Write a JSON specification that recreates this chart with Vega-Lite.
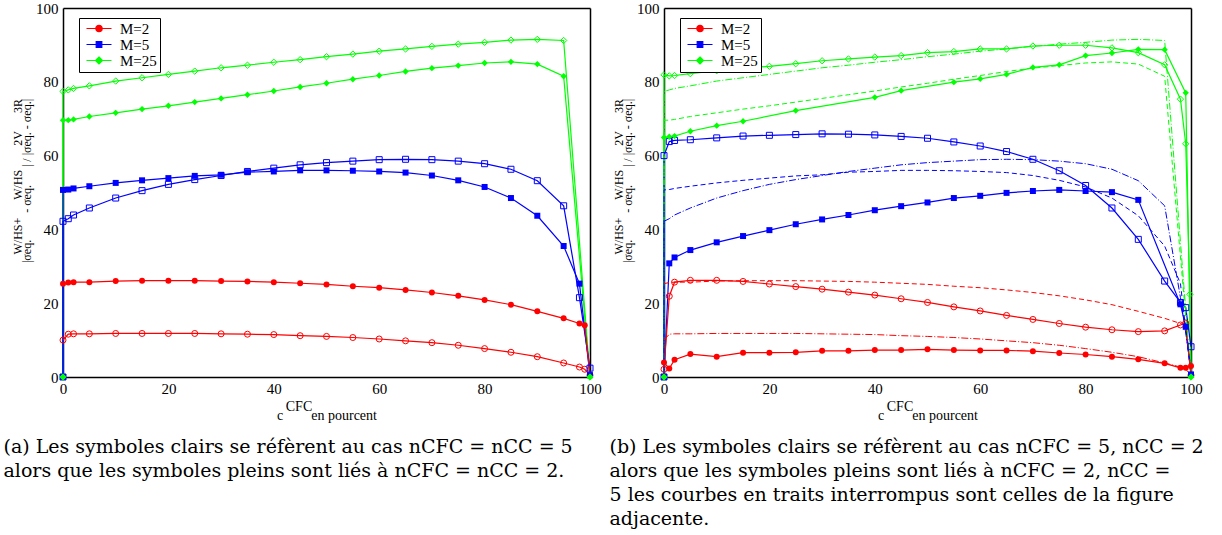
{
"$schema": "https://vega.github.io/schema/vega-lite/v6.json",
"background": "white",
"padding": {"left": 3, "top": 1, "right": 0, "bottom": 0},
"spacing": 7,
"datasets": {
"A": [
{"M":"M=25","f":"o","x":0,"y":0},{"M":"M=25","f":"o","x":0,"y":77.4},{"M":"M=25","f":"o","x":1,"y":77.8},{"M":"M=25","f":"o","x":2,"y":78.2},{"M":"M=25","f":"o","x":5,"y":78.9},{"M":"M=25","f":"o","x":10,"y":80.2},{"M":"M=25","f":"o","x":15,"y":81.1},{"M":"M=25","f":"o","x":20,"y":82.0},{"M":"M=25","f":"o","x":25,"y":82.9},{"M":"M=25","f":"o","x":30,"y":83.8},{"M":"M=25","f":"o","x":35,"y":84.5},{"M":"M=25","f":"o","x":40,"y":85.3},{"M":"M=25","f":"o","x":45,"y":86.0},{"M":"M=25","f":"o","x":50,"y":86.8},{"M":"M=25","f":"o","x":55,"y":87.5},{"M":"M=25","f":"o","x":60,"y":88.3},{"M":"M=25","f":"o","x":65,"y":88.9},{"M":"M=25","f":"o","x":70,"y":89.6},{"M":"M=25","f":"o","x":75,"y":90.2},{"M":"M=25","f":"o","x":80,"y":90.7},{"M":"M=25","f":"o","x":85,"y":91.3},{"M":"M=25","f":"o","x":90,"y":91.5},{"M":"M=25","f":"o","x":95,"y":91.2},{"M":"M=25","f":"o","x":100,"y":0},
{"M":"M=25","f":"f","x":0,"y":0},{"M":"M=25","f":"f","x":0,"y":69.6},{"M":"M=25","f":"f","x":1,"y":69.6},{"M":"M=25","f":"f","x":2,"y":69.8},{"M":"M=25","f":"f","x":5,"y":70.6},{"M":"M=25","f":"f","x":10,"y":71.6},{"M":"M=25","f":"f","x":15,"y":72.6},{"M":"M=25","f":"f","x":20,"y":73.5},{"M":"M=25","f":"f","x":25,"y":74.5},{"M":"M=25","f":"f","x":30,"y":75.5},{"M":"M=25","f":"f","x":35,"y":76.5},{"M":"M=25","f":"f","x":40,"y":77.5},{"M":"M=25","f":"f","x":45,"y":78.6},{"M":"M=25","f":"f","x":50,"y":79.6},{"M":"M=25","f":"f","x":55,"y":80.7},{"M":"M=25","f":"f","x":60,"y":81.7},{"M":"M=25","f":"f","x":65,"y":82.8},{"M":"M=25","f":"f","x":70,"y":83.7},{"M":"M=25","f":"f","x":75,"y":84.4},{"M":"M=25","f":"f","x":80,"y":85.1},{"M":"M=25","f":"f","x":85,"y":85.4},{"M":"M=25","f":"f","x":90,"y":84.8},{"M":"M=25","f":"f","x":95,"y":81.5},{"M":"M=25","f":"f","x":100,"y":0},
{"M":"M=5","f":"o","x":0,"y":0},{"M":"M=5","f":"o","x":0,"y":42.2},{"M":"M=5","f":"o","x":1,"y":42.9},{"M":"M=5","f":"o","x":2,"y":43.9},{"M":"M=5","f":"o","x":5,"y":45.8},{"M":"M=5","f":"o","x":10,"y":48.5},{"M":"M=5","f":"o","x":15,"y":50.5},{"M":"M=5","f":"o","x":20,"y":52.2},{"M":"M=5","f":"o","x":25,"y":53.5},{"M":"M=5","f":"o","x":30,"y":54.6},{"M":"M=5","f":"o","x":35,"y":55.7},{"M":"M=5","f":"o","x":40,"y":56.6},{"M":"M=5","f":"o","x":45,"y":57.5},{"M":"M=5","f":"o","x":50,"y":58.1},{"M":"M=5","f":"o","x":55,"y":58.5},{"M":"M=5","f":"o","x":60,"y":58.9},{"M":"M=5","f":"o","x":65,"y":59.0},{"M":"M=5","f":"o","x":70,"y":58.9},{"M":"M=5","f":"o","x":75,"y":58.5},{"M":"M=5","f":"o","x":80,"y":57.8},{"M":"M=5","f":"o","x":85,"y":56.3},{"M":"M=5","f":"o","x":90,"y":53.2},{"M":"M=5","f":"o","x":95,"y":46.4},{"M":"M=5","f":"o","x":98,"y":21.5},{"M":"M=5","f":"o","x":100,"y":2.4},
{"M":"M=5","f":"f","x":0,"y":0},{"M":"M=5","f":"f","x":0,"y":50.7},{"M":"M=5","f":"f","x":1,"y":50.8},{"M":"M=5","f":"f","x":2,"y":51.1},{"M":"M=5","f":"f","x":5,"y":51.7},{"M":"M=5","f":"f","x":10,"y":52.6},{"M":"M=5","f":"f","x":15,"y":53.3},{"M":"M=5","f":"f","x":20,"y":53.9},{"M":"M=5","f":"f","x":25,"y":54.5},{"M":"M=5","f":"f","x":30,"y":54.8},{"M":"M=5","f":"f","x":35,"y":55.5},{"M":"M=5","f":"f","x":40,"y":55.7},{"M":"M=5","f":"f","x":45,"y":56.0},{"M":"M=5","f":"f","x":50,"y":56.0},{"M":"M=5","f":"f","x":55,"y":55.9},{"M":"M=5","f":"f","x":60,"y":55.7},{"M":"M=5","f":"f","x":65,"y":55.4},{"M":"M=5","f":"f","x":70,"y":54.6},{"M":"M=5","f":"f","x":75,"y":53.3},{"M":"M=5","f":"f","x":80,"y":51.5},{"M":"M=5","f":"f","x":85,"y":48.5},{"M":"M=5","f":"f","x":90,"y":43.7},{"M":"M=5","f":"f","x":95,"y":35.5},{"M":"M=5","f":"f","x":98,"y":25.3},{"M":"M=5","f":"f","x":100,"y":0.5},
{"M":"M=2","f":"o","x":0,"y":10.0},{"M":"M=2","f":"o","x":1,"y":11.6},{"M":"M=2","f":"o","x":2,"y":11.7},{"M":"M=2","f":"o","x":5,"y":11.7},{"M":"M=2","f":"o","x":10,"y":11.8},{"M":"M=2","f":"o","x":15,"y":11.8},{"M":"M=2","f":"o","x":20,"y":11.8},{"M":"M=2","f":"o","x":25,"y":11.8},{"M":"M=2","f":"o","x":30,"y":11.7},{"M":"M=2","f":"o","x":35,"y":11.6},{"M":"M=2","f":"o","x":40,"y":11.5},{"M":"M=2","f":"o","x":45,"y":11.2},{"M":"M=2","f":"o","x":50,"y":11.0},{"M":"M=2","f":"o","x":55,"y":10.7},{"M":"M=2","f":"o","x":60,"y":10.3},{"M":"M=2","f":"o","x":65,"y":9.8},{"M":"M=2","f":"o","x":70,"y":9.3},{"M":"M=2","f":"o","x":75,"y":8.6},{"M":"M=2","f":"o","x":80,"y":7.7},{"M":"M=2","f":"o","x":85,"y":6.7},{"M":"M=2","f":"o","x":90,"y":5.5},{"M":"M=2","f":"o","x":95,"y":3.8},{"M":"M=2","f":"o","x":98,"y":2.7},{"M":"M=2","f":"o","x":99,"y":2.1},{"M":"M=2","f":"o","x":100,"y":0.5},
{"M":"M=2","f":"f","x":0,"y":25.3},{"M":"M=2","f":"f","x":1,"y":25.6},{"M":"M=2","f":"f","x":2,"y":25.7},{"M":"M=2","f":"f","x":5,"y":25.7},{"M":"M=2","f":"f","x":10,"y":26.0},{"M":"M=2","f":"f","x":15,"y":26.1},{"M":"M=2","f":"f","x":20,"y":26.1},{"M":"M=2","f":"f","x":25,"y":26.1},{"M":"M=2","f":"f","x":30,"y":26.0},{"M":"M=2","f":"f","x":35,"y":25.9},{"M":"M=2","f":"f","x":40,"y":25.7},{"M":"M=2","f":"f","x":45,"y":25.4},{"M":"M=2","f":"f","x":50,"y":25.1},{"M":"M=2","f":"f","x":55,"y":24.6},{"M":"M=2","f":"f","x":60,"y":24.2},{"M":"M=2","f":"f","x":65,"y":23.6},{"M":"M=2","f":"f","x":70,"y":22.9},{"M":"M=2","f":"f","x":75,"y":22.0},{"M":"M=2","f":"f","x":80,"y":20.9},{"M":"M=2","f":"f","x":85,"y":19.6},{"M":"M=2","f":"f","x":90,"y":17.8},{"M":"M=2","f":"f","x":95,"y":15.9},{"M":"M=2","f":"f","x":98,"y":14.5},{"M":"M=2","f":"f","x":99,"y":14.0},{"M":"M=2","f":"f","x":100,"y":0.5}
],
"B": [
{"M":"M=25","f":"o","x":0,"y":0},{"M":"M=25","f":"o","x":0,"y":81.9},{"M":"M=25","f":"o","x":1,"y":81.6},{"M":"M=25","f":"o","x":2,"y":81.7},{"M":"M=25","f":"o","x":5,"y":82.2},{"M":"M=25","f":"o","x":10,"y":83.0},{"M":"M=25","f":"o","x":15,"y":83.7},{"M":"M=25","f":"o","x":20,"y":84.2},{"M":"M=25","f":"o","x":25,"y":84.9},{"M":"M=25","f":"o","x":30,"y":85.7},{"M":"M=25","f":"o","x":35,"y":86.2},{"M":"M=25","f":"o","x":40,"y":86.7},{"M":"M=25","f":"o","x":45,"y":87.1},{"M":"M=25","f":"o","x":50,"y":87.9},{"M":"M=25","f":"o","x":55,"y":88.2},{"M":"M=25","f":"o","x":60,"y":88.9},{"M":"M=25","f":"o","x":65,"y":88.9},{"M":"M=25","f":"o","x":70,"y":89.7},{"M":"M=25","f":"o","x":75,"y":89.9},{"M":"M=25","f":"o","x":80,"y":89.9},{"M":"M=25","f":"o","x":85,"y":89.2},{"M":"M=25","f":"o","x":90,"y":87.9},{"M":"M=25","f":"o","x":95,"y":84.6},{"M":"M=25","f":"o","x":98,"y":75.3},{"M":"M=25","f":"o","x":99,"y":63.2},{"M":"M=25","f":"o","x":99.8,"y":22.4},{"M":"M=25","f":"o","x":100,"y":0},
{"M":"M=25","f":"f","x":0,"y":0},{"M":"M=25","f":"f","x":0,"y":64.9},{"M":"M=25","f":"f","x":1,"y":65.1},{"M":"M=25","f":"f","x":2,"y":65.3},{"M":"M=25","f":"f","x":5,"y":66.6},{"M":"M=25","f":"f","x":10,"y":68.1},{"M":"M=25","f":"f","x":15,"y":69.3},{"M":"M=25","f":"f","x":25,"y":72.2},{"M":"M=25","f":"f","x":40,"y":75.8},{"M":"M=25","f":"f","x":45,"y":77.6},{"M":"M=25","f":"f","x":55,"y":79.9},{"M":"M=25","f":"f","x":60,"y":80.8},{"M":"M=25","f":"f","x":65,"y":82.0},{"M":"M=25","f":"f","x":70,"y":83.9},{"M":"M=25","f":"f","x":75,"y":84.6},{"M":"M=25","f":"f","x":80,"y":87.1},{"M":"M=25","f":"f","x":85,"y":87.8},{"M":"M=25","f":"f","x":90,"y":88.8},{"M":"M=25","f":"f","x":95,"y":88.7},{"M":"M=25","f":"f","x":99,"y":77.0},{"M":"M=25","f":"f","x":100,"y":0},
{"M":"M=5","f":"o","x":0,"y":0},{"M":"M=5","f":"o","x":0,"y":60.0},{"M":"M=5","f":"o","x":1,"y":63.8},{"M":"M=5","f":"o","x":2,"y":64.1},{"M":"M=5","f":"o","x":5,"y":64.3},{"M":"M=5","f":"o","x":10,"y":64.8},{"M":"M=5","f":"o","x":15,"y":65.3},{"M":"M=5","f":"o","x":20,"y":65.5},{"M":"M=5","f":"o","x":25,"y":65.7},{"M":"M=5","f":"o","x":30,"y":65.9},{"M":"M=5","f":"o","x":35,"y":65.8},{"M":"M=5","f":"o","x":40,"y":65.6},{"M":"M=5","f":"o","x":45,"y":65.2},{"M":"M=5","f":"o","x":50,"y":64.7},{"M":"M=5","f":"o","x":55,"y":63.7},{"M":"M=5","f":"o","x":60,"y":62.6},{"M":"M=5","f":"o","x":65,"y":61.1},{"M":"M=5","f":"o","x":70,"y":59.0},{"M":"M=5","f":"o","x":75,"y":55.9},{"M":"M=5","f":"o","x":80,"y":51.9},{"M":"M=5","f":"o","x":85,"y":45.8},{"M":"M=5","f":"o","x":90,"y":37.3},{"M":"M=5","f":"o","x":95,"y":26.0},{"M":"M=5","f":"o","x":98,"y":20.2},{"M":"M=5","f":"o","x":99,"y":18.8},{"M":"M=5","f":"o","x":100,"y":8.2},
{"M":"M=5","f":"f","x":0,"y":0},{"M":"M=5","f":"f","x":1,"y":30.8},{"M":"M=5","f":"f","x":2,"y":32.4},{"M":"M=5","f":"f","x":5,"y":34.4},{"M":"M=5","f":"f","x":10,"y":36.5},{"M":"M=5","f":"f","x":15,"y":38.2},{"M":"M=5","f":"f","x":20,"y":39.8},{"M":"M=5","f":"f","x":25,"y":41.4},{"M":"M=5","f":"f","x":30,"y":42.7},{"M":"M=5","f":"f","x":35,"y":43.9},{"M":"M=5","f":"f","x":40,"y":45.2},{"M":"M=5","f":"f","x":45,"y":46.3},{"M":"M=5","f":"f","x":50,"y":47.3},{"M":"M=5","f":"f","x":55,"y":48.5},{"M":"M=5","f":"f","x":60,"y":49.1},{"M":"M=5","f":"f","x":65,"y":49.9},{"M":"M=5","f":"f","x":70,"y":50.4},{"M":"M=5","f":"f","x":75,"y":50.7},{"M":"M=5","f":"f","x":80,"y":50.4},{"M":"M=5","f":"f","x":85,"y":50.1},{"M":"M=5","f":"f","x":90,"y":48.0},{"M":"M=5","f":"f","x":98,"y":19.7},{"M":"M=5","f":"f","x":99,"y":13.6},{"M":"M=5","f":"f","x":100,"y":0.7},
{"M":"M=2","f":"o","x":0,"y":2.1},{"M":"M=2","f":"o","x":1,"y":21.9},{"M":"M=2","f":"o","x":2,"y":25.7},{"M":"M=2","f":"o","x":5,"y":26.2},{"M":"M=2","f":"o","x":10,"y":26.2},{"M":"M=2","f":"o","x":15,"y":25.9},{"M":"M=2","f":"o","x":20,"y":25.2},{"M":"M=2","f":"o","x":25,"y":24.5},{"M":"M=2","f":"o","x":30,"y":23.8},{"M":"M=2","f":"o","x":35,"y":23.0},{"M":"M=2","f":"o","x":40,"y":22.2},{"M":"M=2","f":"o","x":45,"y":21.2},{"M":"M=2","f":"o","x":50,"y":20.2},{"M":"M=2","f":"o","x":55,"y":19.0},{"M":"M=2","f":"o","x":60,"y":17.9},{"M":"M=2","f":"o","x":65,"y":16.7},{"M":"M=2","f":"o","x":70,"y":15.6},{"M":"M=2","f":"o","x":75,"y":14.5},{"M":"M=2","f":"o","x":80,"y":13.5},{"M":"M=2","f":"o","x":85,"y":12.8},{"M":"M=2","f":"o","x":90,"y":12.3},{"M":"M=2","f":"o","x":95,"y":12.5},{"M":"M=2","f":"o","x":98,"y":14.1},{"M":"M=2","f":"o","x":99,"y":14.6},{"M":"M=2","f":"o","x":100,"y":0.5},
{"M":"M=2","f":"f","x":0,"y":3.9},{"M":"M=2","f":"f","x":1,"y":2.3},{"M":"M=2","f":"f","x":2,"y":4.7},{"M":"M=2","f":"f","x":5,"y":6.2},{"M":"M=2","f":"f","x":10,"y":5.5},{"M":"M=2","f":"f","x":15,"y":6.6},{"M":"M=2","f":"f","x":20,"y":6.6},{"M":"M=2","f":"f","x":25,"y":6.7},{"M":"M=2","f":"f","x":30,"y":7.1},{"M":"M=2","f":"f","x":35,"y":7.1},{"M":"M=2","f":"f","x":40,"y":7.3},{"M":"M=2","f":"f","x":45,"y":7.3},{"M":"M=2","f":"f","x":50,"y":7.5},{"M":"M=2","f":"f","x":55,"y":7.3},{"M":"M=2","f":"f","x":60,"y":7.2},{"M":"M=2","f":"f","x":65,"y":7.2},{"M":"M=2","f":"f","x":70,"y":7.0},{"M":"M=2","f":"f","x":75,"y":6.5},{"M":"M=2","f":"f","x":80,"y":6.1},{"M":"M=2","f":"f","x":85,"y":5.5},{"M":"M=2","f":"f","x":90,"y":4.8},{"M":"M=2","f":"f","x":95,"y":3.7},{"M":"M=2","f":"f","x":98,"y":2.5},{"M":"M=2","f":"f","x":99,"y":2.5},{"M":"M=2","f":"f","x":100,"y":3.0}
]
},
"hconcat": [
{
"width": 527, "height": 369,
"data": {"name": "A"},
"title": {"text": ["(a) Les symboles clairs se réfèrent au cas nCFC = nCC = 5", "alors que les symboles pleins sont liés à nCFC = nCC = 2."], "orient": "bottom", "anchor": "start", "frame": "bounds", "offset": 16, "dx": -8, "font": "DejaVu Serif", "fontSize": 19, "fontWeight": "normal", "color": "black", "lineHeight": 24},
"layer": [
{"mark": {"type": "line", "strokeWidth": 1.2},
 "encoding": {
  "x": {"field": "x", "type": "quantitative", "scale": {"domain": [0, 100], "nice": false, "zero": false},
   "axis": {"orient": "bottom", "values": [0,10,20,30,40,50,60,70,80,90,100], "labelExpr": "datum.value % 20 === 0 ? datum.label : ''", "labelPadding": 4, "titlePadding": 3, "titleFontSize": 14, "titleLineHeight": 9,
    "title": ["\u2060\u2002CFC\u2002\u2002\u2002\u2002\u2002\u2002\u2002\u2002\u2002\u2060", "c\u2002\u2002\u2002\u2002en pourcent"],
    "encode": {"ticks": {"update": {"y2": {"signal": "datum.value % 20 === 0 ? -10 : -5"}}}}}},
  "y": {"field": "y", "type": "quantitative", "scale": {"domain": [0, 100], "nice": false, "zero": false},
   "axis": {"orient": "left", "values": [0,10,20,30,40,50,60,70,80,90,100], "labelExpr": "datum.value % 20 === 0 ? datum.label : ''", "labelPadding": 5, "titlePadding": 2, "titleFontSize": 12, "titleLineHeight": 9,
    "title": ["\u2060\u2002\u2002\u2002\u2002\u2002\u2009W/HS+\u2002\u2002\u2002W/HS\u2002\u2002\u2002\u20022V\u2002\u2002\u20023R", "\u2060\u2002\u2002\u2002\u2002|σeq.\u2002\u2002\u2002\u2002 - σeq.\u2002\u2002\u2002| / |σeq. - σeq.|"],
    "encode": {"ticks": {"update": {"x2": {"signal": "datum.value % 20 === 0 ? 10 : 5"}}}}}},
  "color": {"field": "M", "type": "nominal", "scale": {"domain": ["M=2", "M=5", "M=25"], "range": ["#ff0000", "#0000ff", "#00ff00"]},
   "legend": {"encode": {"symbols": {"update": {
     "shape": {"signal": "datum.value === 'M=2' ? 'M-0.6,0H4.4M1.26,0A0.64,0.64,0,1,0,2.54,0A0.64,0.64,0,1,0,1.26,0Z' : datum.value === 'M=5' ? 'M-0.6,0H4.4M1.34,-0.56H2.46V0.56H1.34Z' : 'M-0.6,0H4.4M1.9,-0.7L2.6,0L1.9,0.7L1.2,0Z'"},
     "size": {"value": 100},
     "fill": {"signal": "datum.value === 'M=2' ? '#ff0000' : datum.value === 'M=5' ? '#0000ff' : '#00ff00'"},
     "stroke": {"signal": "datum.value === 'M=2' ? '#ff0000' : datum.value === 'M=5' ? '#0000ff' : '#00ff00'"},
     "opacity": {"value": 1}}}}}},
  "detail": {"field": "f"},
  "order": {"value": null}
 }},
{"transform": [{"filter": "datum.M === 'M=2' && datum.f === 'f'"}],
 "mark": {"type": "point", "shape": "circle", "filled": true, "color": "#ff0000", "size": 36, "opacity": 1},
 "encoding": {
  "x": {"field": "x", "type": "quantitative",
   "axis": {"orient": "top", "values": [0,10,20,30,40,50,60,70,80,90,100], "labels": false, "title": null,
    "encode": {"ticks": {"update": {"y2": {"signal": "datum.value % 20 === 0 ? 10 : 5"}}}}}},
  "y": {"field": "y", "type": "quantitative",
   "axis": {"orient": "right", "values": [0,10,20,30,40,50,60,70,80,90,100], "labels": false, "title": null,
    "encode": {"ticks": {"update": {"x2": {"signal": "datum.value % 20 === 0 ? -10 : -5"}}}}}}
 }},
{"transform": [{"filter": "datum.M === 'M=2' && datum.f === 'o'"}],
 "mark": {"type": "point", "shape": "circle", "filled": false, "color": "#ff0000", "size": 36, "strokeWidth": 1, "opacity": 1},
 "encoding": {"x": {"field": "x", "type": "quantitative", "axis": null}, "y": {"field": "y", "type": "quantitative", "axis": null}}},
{"transform": [{"filter": "datum.M === 'M=5' && datum.f === 'f'"}],
 "mark": {"type": "point", "shape": "square", "filled": true, "color": "#0000ff", "size": 36, "opacity": 1},
 "encoding": {"x": {"field": "x", "type": "quantitative", "axis": null}, "y": {"field": "y", "type": "quantitative", "axis": null}}},
{"transform": [{"filter": "datum.M === 'M=5' && datum.f === 'o'"}],
 "mark": {"type": "point", "shape": "square", "filled": false, "color": "#0000ff", "size": 36, "strokeWidth": 1, "opacity": 1},
 "encoding": {"x": {"field": "x", "type": "quantitative", "axis": null}, "y": {"field": "y", "type": "quantitative", "axis": null}}},
{"transform": [{"filter": "datum.M === 'M=25' && datum.f === 'f'"}],
 "mark": {"type": "point", "shape": "diamond", "filled": true, "color": "#00ff00", "size": 40, "opacity": 1},
 "encoding": {"x": {"field": "x", "type": "quantitative", "axis": null}, "y": {"field": "y", "type": "quantitative", "axis": null}}},
{"transform": [{"filter": "datum.M === 'M=25' && datum.f === 'o'"}],
 "mark": {"type": "point", "shape": "diamond", "filled": false, "color": "#00ff00", "size": 40, "strokeWidth": 1, "opacity": 1},
 "encoding": {"x": {"field": "x", "type": "quantitative", "axis": null}, "y": {"field": "y", "type": "quantitative", "axis": null}}}
],
"resolve": {"axis": {"x": "independent", "y": "independent"}}
},
{
"width": 527, "height": 369,
"data": {"name": "B"},
"title": {"text": ["(b) Les symboles clairs se réfèrent au cas nCFC = 5, nCC = 2", "alors que les symboles pleins sont liés à nCFC = 2, nCC =", "5 les courbes en traits interrompus sont celles de la figure", "adjacente."], "orient": "bottom", "anchor": "start", "frame": "bounds", "offset": 16, "dx": -3, "font": "DejaVu Serif", "fontSize": 19, "fontWeight": "normal", "color": "black", "lineHeight": 24},
"layer": [
{"mark": {"type": "line", "strokeWidth": 1.2},
 "encoding": {
  "x": {"field": "x", "type": "quantitative", "scale": {"domain": [0, 100], "nice": false, "zero": false},
   "axis": {"orient": "bottom", "values": [0,10,20,30,40,50,60,70,80,90,100], "labelExpr": "datum.value % 20 === 0 ? datum.label : ''", "labelPadding": 4, "titlePadding": 3, "titleFontSize": 14, "titleLineHeight": 9,
    "title": ["\u2060\u2002CFC\u2002\u2002\u2002\u2002\u2002\u2002\u2002\u2002\u2002\u2060", "c\u2002\u2002\u2002\u2002en pourcent"],
    "encode": {"ticks": {"update": {"y2": {"signal": "datum.value % 20 === 0 ? -10 : -5"}}}}}},
  "y": {"field": "y", "type": "quantitative", "scale": {"domain": [0, 100], "nice": false, "zero": false},
   "axis": {"orient": "left", "values": [0,10,20,30,40,50,60,70,80,90,100], "labelExpr": "datum.value % 20 === 0 ? datum.label : ''", "labelPadding": 5, "titlePadding": 2, "titleFontSize": 12, "titleLineHeight": 9,
    "title": ["\u2060\u2002\u2002\u2002\u2002\u2002\u2009W/HS+\u2002\u2002\u2002W/HS\u2002\u2002\u2002\u20022V\u2002\u2002\u20023R", "\u2060\u2002\u2002\u2002\u2002|σeq.\u2002\u2002\u2002\u2002 - σeq.\u2002\u2002\u2002| / |σeq. - σeq.|"],
    "encode": {"ticks": {"update": {"x2": {"signal": "datum.value % 20 === 0 ? 10 : 5"}}}}}},
  "color": {"field": "M", "type": "nominal", "scale": {"domain": ["M=2", "M=5", "M=25"], "range": ["#ff0000", "#0000ff", "#00ff00"]},
   "legend": {"encode": {"symbols": {"update": {
     "shape": {"signal": "datum.value === 'M=2' ? 'M-0.6,0H4.4M1.26,0A0.64,0.64,0,1,0,2.54,0A0.64,0.64,0,1,0,1.26,0Z' : datum.value === 'M=5' ? 'M-0.6,0H4.4M1.34,-0.56H2.46V0.56H1.34Z' : 'M-0.6,0H4.4M1.9,-0.7L2.6,0L1.9,0.7L1.2,0Z'"},
     "size": {"value": 100},
     "fill": {"signal": "datum.value === 'M=2' ? '#ff0000' : datum.value === 'M=5' ? '#0000ff' : '#00ff00'"},
     "stroke": {"signal": "datum.value === 'M=2' ? '#ff0000' : datum.value === 'M=5' ? '#0000ff' : '#00ff00'"},
     "opacity": {"value": 1}}}}}},
  "detail": {"field": "f"},
  "order": {"value": null}
 }},
{"data": {"name": "A"},
 "mark": {"type": "line", "strokeWidth": 1},
 "encoding": {
  "x": {"field": "x", "type": "quantitative", "axis": null},
  "y": {"field": "y", "type": "quantitative", "axis": null},
  "color": {"field": "M", "type": "nominal", "legend": null},
  "strokeDash": {"field": "f", "type": "nominal", "scale": {"domain": ["f", "o"], "range": [[5, 3], [7, 2, 1, 2]]}, "legend": null},
  "detail": {"field": "f"},
  "order": {"value": null}
 }},
{"transform": [{"filter": "datum.M === 'M=2' && datum.f === 'f'"}],
 "mark": {"type": "point", "shape": "circle", "filled": true, "color": "#ff0000", "size": 36, "opacity": 1},
 "encoding": {
  "x": {"field": "x", "type": "quantitative",
   "axis": {"orient": "top", "values": [0,10,20,30,40,50,60,70,80,90,100], "labels": false, "title": null,
    "encode": {"ticks": {"update": {"y2": {"signal": "datum.value % 20 === 0 ? 10 : 5"}}}}}},
  "y": {"field": "y", "type": "quantitative",
   "axis": {"orient": "right", "values": [0,10,20,30,40,50,60,70,80,90,100], "labels": false, "title": null,
    "encode": {"ticks": {"update": {"x2": {"signal": "datum.value % 20 === 0 ? -10 : -5"}}}}}}
 }},
{"transform": [{"filter": "datum.M === 'M=2' && datum.f === 'o'"}],
 "mark": {"type": "point", "shape": "circle", "filled": false, "color": "#ff0000", "size": 36, "strokeWidth": 1, "opacity": 1},
 "encoding": {"x": {"field": "x", "type": "quantitative", "axis": null}, "y": {"field": "y", "type": "quantitative", "axis": null}}},
{"transform": [{"filter": "datum.M === 'M=5' && datum.f === 'f'"}],
 "mark": {"type": "point", "shape": "square", "filled": true, "color": "#0000ff", "size": 36, "opacity": 1},
 "encoding": {"x": {"field": "x", "type": "quantitative", "axis": null}, "y": {"field": "y", "type": "quantitative", "axis": null}}},
{"transform": [{"filter": "datum.M === 'M=5' && datum.f === 'o'"}],
 "mark": {"type": "point", "shape": "square", "filled": false, "color": "#0000ff", "size": 36, "strokeWidth": 1, "opacity": 1},
 "encoding": {"x": {"field": "x", "type": "quantitative", "axis": null}, "y": {"field": "y", "type": "quantitative", "axis": null}}},
{"transform": [{"filter": "datum.M === 'M=25' && datum.f === 'f'"}],
 "mark": {"type": "point", "shape": "diamond", "filled": true, "color": "#00ff00", "size": 40, "opacity": 1},
 "encoding": {"x": {"field": "x", "type": "quantitative", "axis": null}, "y": {"field": "y", "type": "quantitative", "axis": null}}},
{"transform": [{"filter": "datum.M === 'M=25' && datum.f === 'o'"}],
 "mark": {"type": "point", "shape": "diamond", "filled": false, "color": "#00ff00", "size": 40, "strokeWidth": 1, "opacity": 1},
 "encoding": {"x": {"field": "x", "type": "quantitative", "axis": null}, "y": {"field": "y", "type": "quantitative", "axis": null}}}
],
"resolve": {"axis": {"x": "independent", "y": "independent"}}
}
],
"resolve": {"scale": {"color": "independent", "strokeDash": "independent"}, "legend": {"color": "independent"}},
"config": {
 "view": {"stroke": null},
 "font": "Liberation Serif",
 "axis": {"grid": false, "domainColor": "black", "domainWidth": 1.5, "tickColor": "black", "tickWidth": 1.5, "tickSize": 0, "labelFont": "Liberation Serif", "labelFontSize": 15, "labelColor": "black", "labelFlush": false, "labelOverlap": false, "titleFont": "Liberation Serif", "titleFontWeight": "normal", "titleColor": "black"},
 "legend": {"orient": "none", "legendX": 16, "legendY": 10, "title": null, "strokeColor": "black", "fillColor": "white", "padding": 3, "labelFont": "Liberation Serif", "labelFontSize": 15, "labelColor": "black", "symbolSize": 100, "symbolOffset": 0, "labelOffset": 23, "rowPadding": 0, "symbolStrokeWidth": 1.2},
 "title": {"font": "DejaVu Serif", "fontSize": 19, "fontWeight": "normal", "color": "black", "lineHeight": 24}
}
}
